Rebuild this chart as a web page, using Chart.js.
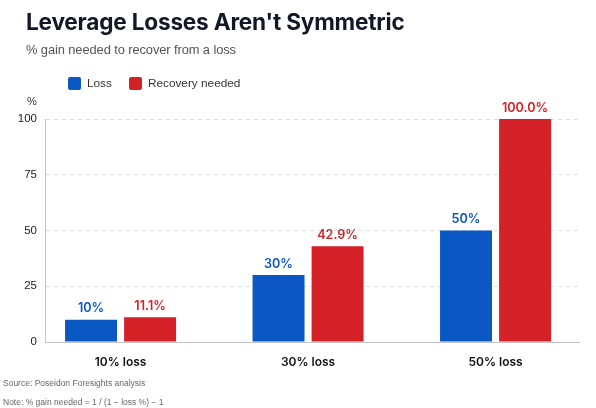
<!DOCTYPE html>
<html>
<head>
<meta charset="utf-8">
<script src="https://cdn.jsdelivr.net/npm/chart.js@4.4.1/dist/chart.umd.min.js"></script>
<style>
  body { margin: 0; background: #fff; font-family: "Liberation Sans", Arial, sans-serif; }
  #wrap { position: relative; width: 596px; height: 408px; overflow: hidden; }
  #chart { position: absolute; left: 0; top: 0; }
  .txt { position: absolute; white-space: nowrap; line-height: 1; }
  #title { left: 26px; top: 11px; font-family: Inter, "Noto Sans", sans-serif; font-size: 22.6px; font-weight: 700; color: #111827; letter-spacing: -0.2px; }
  #subtitle { left: 26px; top: 44px; font-size: 12.9px; color: #555; letter-spacing: -0.1px; }
  #legend { left: 68px; top: 77px; font-size: 11.8px; color: #333; display: flex; align-items: center; }
  #legend .box { display: inline-block; width: 13px; height: 13px; border-radius: 2px; margin-right: 6px; }
  #legend .item { display: flex; align-items: center; margin-right: 17px; }
  #unit { left: 27px; top: 96px; font-size: 11px; color: #333; }
  #source { left: 3px; top: 379px; font-size: 8.5px; color: #666; }
  #note { left: 3px; top: 398px; font-size: 8.5px; color: #666; }
</style>
</head>
<body>
<div id="wrap">
  <canvas id="chart" width="596" height="408"></canvas>
  <div id="title" class="txt">Leverage Losses Aren't Symmetric</div>
  <div id="subtitle" class="txt">% gain needed to recover from a loss</div>
  <div id="legend" class="txt"></div>
  <div id="unit" class="txt">%</div>
  <div id="source" class="txt">Source: Poseidon Foresights analysis</div>
  <div id="note" class="txt">Note: % gain needed = 1 / (1 − loss %) − 1</div>
</div>
<script>
// Data
const categories = ['10% loss', '30% loss', '50% loss'];
const lossValues = [10, 30, 50];
const recoveryValues = [11.1, 42.9, 100];
const seriesNames = ['Loss', 'Recovery needed'];
const yTicks = [0, 25, 50, 75, 100];

const blue = '#0b57c4';
const red = '#d32127';

// Legend in HTML
const legendEl = document.getElementById('legend');
[[seriesNames[0], blue], [seriesNames[1], red]].forEach(([name, color]) => {
    const item = document.createElement('span');
    item.className = 'item';
    item.innerHTML = `<span class="box" style="background:${color}"></span>${name}`;
    legendEl.appendChild(item);
});

// Labels above the bars
const barLabels = {
    id: 'barLabels',
    afterDatasetsDraw(chart) {
        const ctx = chart.ctx;
        ctx.save();
        ctx.font = '600 12.6px Inter, "Noto Sans", sans-serif';
        ctx.textAlign = 'center';
        ctx.textBaseline = 'bottom';
        chart.data.datasets.forEach((ds, i) => {
            const meta = chart.getDatasetMeta(i);
            meta.data.forEach((bar, j) => {
                const v = ds.data[j].y;
                const text = i === 0 ? v.toFixed(0) + '%' : v.toFixed(1) + '%';
                ctx.fillStyle = ds.backgroundColor;
                ctx.fillText(text, bar.x, bar.y - 5);
            });
        });
        ctx.restore();
    }
};

const ctx = document.getElementById('chart').getContext('2d');
new Chart(ctx, {
    type: 'bar',
    data: {
        datasets: [
            {
                label: seriesNames[0],
                data: lossValues.map((v, i) => ({ x: i, y: v })),
                backgroundColor: blue,
                categoryPercentage: 0.63,
                barPercentage: 0.88
            },
            {
                label: seriesNames[1],
                data: recoveryValues.map((v, i) => ({ x: i, y: v })),
                backgroundColor: red,
                categoryPercentage: 0.63,
                barPercentage: 0.88
            }
        ]
    },
    options: {
        responsive: false,
        animation: false,
        layout: { padding: { top: 119, left: 0, right: 17, bottom: 42 } },
        plugins: {
            legend: { display: false },
            tooltip: { enabled: false }
        },
        scales: {
            x: {
                type: 'linear',
                min: -0.403,
                max: 2.445,
                offset: false,
                grid: { display: false },
                border: { color: '#c4c4c4' },
                afterFit: (scale) => { scale.height = 24; },
                ticks: {
                    stepSize: 1,
                    includeBounds: false,
                    padding: 5,
                    color: '#111',
                    font: { size: 12, weight: '600', family: 'Inter, "Noto Sans", sans-serif' },
                    callback: (value) => Number.isInteger(value) ? categories[value] : ''
                }
            },
            y: {
                min: 0,
                max: 100,
                afterFit: (scale) => { scale.width = 45; },
                afterBuildTicks: (scale) => { scale.ticks = yTicks.map(v => ({ value: v })); },
                grid: { color: '#dedede', drawTicks: false },
                border: { color: '#c4c4c4', dash: [4, 4] },
                ticks: {
                    padding: 8,
                    color: '#1a1a1a',
                    font: { size: 11.5, family: '"Liberation Sans", Arial, sans-serif' }
                }
            }
        }
    },
    plugins: [barLabels]
});
</script>
</body>
</html>
